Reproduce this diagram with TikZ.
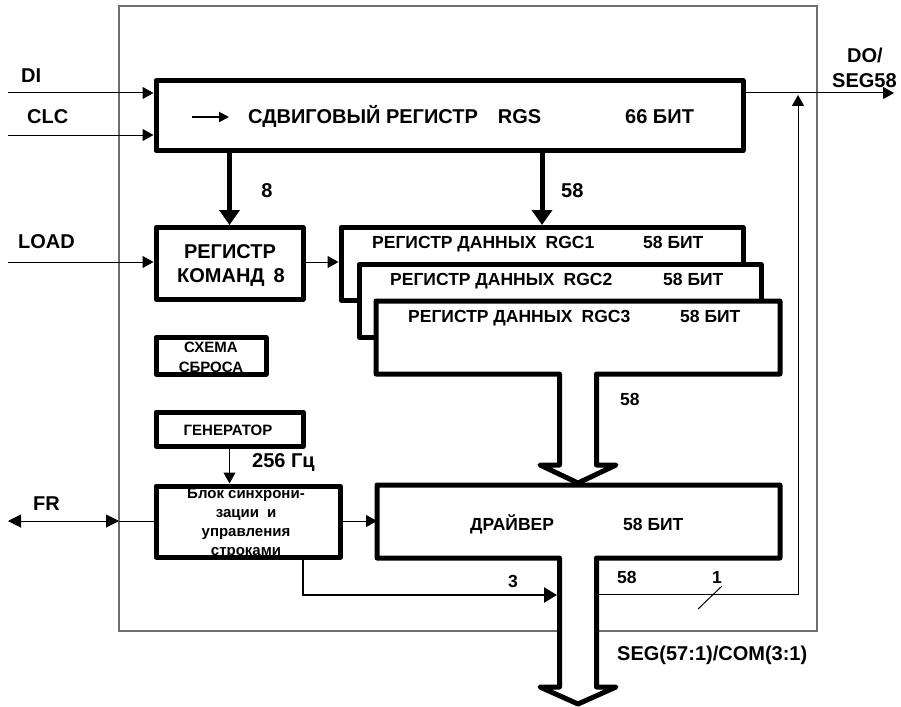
\documentclass[tikz,border=0pt]{standalone}
\usepackage{fontspec}
\setmainfont{Liberation Sans}
\usetikzlibrary{arrows.meta}
\definecolor{framegray}{HTML}{6E6E6E}
\tikzset{
  blk/.style={draw, line width=5pt, line join=round, fill=white, inner sep=0pt},
  anch/.style={inner sep=0pt, outer sep=0pt},
  thinln/.style={line width=1pt},
  tarrow/.style={line width=1pt, -{Triangle[length=11pt,width=12pt]}},
  bigarrow/.style={line width=5pt, -{Triangle[length=15pt,width=20pt]}},
  midarrow/.style={line width=2.5pt, -{Triangle[length=13pt,width=15pt]}},
  lbl/.style={inner sep=0pt, font=\bfseries\fontsize{20}{23}\selectfont},
  mlbl/.style={inner sep=0pt, font=\bfseries\fontsize{17.5}{20}\selectfont},
  slbl/.style={inner sep=0pt, font=\bfseries\fontsize{15}{19}\selectfont},
}
\begin{document}
\begin{tikzpicture}[x=1pt,y=-1pt]
\useasboundingbox (0,0) rectangle (901,706);
\clip (0,0) rectangle (901,706);

% outer frame
\draw[framegray, line width=1.5pt] (119,6) rectangle (817,631);

% free ends / helper coordinates
\coordinate (diL) at (8,93);
\coordinate (clcL) at (8,135);
\coordinate (loadL) at (8,262);
\coordinate (frL) at (8,521);
\coordinate (frF) at (119,521);
\coordinate (doR) at (894,93);
\coordinate (fbTop) at (798,95);
\coordinate (fbCorner) at (798,594);
\coordinate (shR) at (599,594);
\coordinate (s3) at (303,557);
\coordinate (s3end) at (557,595);
\coordinate (slA) at (698,609);
\coordinate (slB) at (722,586);
\coordinate (arrA) at (192,117);
\coordinate (arrB) at (229,117);

% boxes
\node[blk, minimum width=587pt, minimum height=70pt] (rgs) at (449.5,115.5) {};
\node[blk, minimum width=147pt, minimum height=71.5pt] (rgk) at (229.5,263.25) {};
\node[blk, minimum width=402pt, minimum height=72.5pt] (rgc1) at (542,263.75) {};
\node[blk, minimum width=402pt, minimum height=72.5pt] (rgc2) at (560,300.75) {};
\node[anch, minimum width=404pt, minimum height=73pt] (rgc3) at (578,337.5) {};
\draw[blk] (376,301) -- (780,301) -- (780,374) -- (596.5,374) -- (596.5,465)
  -- (616,465) -- (578,483) -- (540,465) -- (559.5,465) -- (559.5,374)
  -- (376,374) -- cycle;
\node[blk, minimum width=110pt, minimum height=36.5pt] (rst) at (211,355.75) {};
\node[blk, minimum width=147pt, minimum height=34pt] (gen) at (229.5,429) {};
\node[blk, minimum width=184pt, minimum height=71pt] (sync) at (248,521.5) {};
\node[anch, minimum width=403pt, minimum height=73pt] (drv) at (578.5,521.5) {};
\draw[blk] (377,485) -- (780,485) -- (780,558) -- (596.5,558) -- (596.5,687)
  -- (616,687) -- (578,704) -- (540,687) -- (559.5,687) -- (559.5,558)
  -- (377,558) -- cycle;

% thin connectors
\draw[tarrow] (diL) -- (diL -| rgs.west);
\draw[tarrow] (clcL) -- (clcL -| rgs.west);
\draw[tarrow] (loadL) -- (loadL -| rgk.west);
\draw[tarrow] (loadL -| rgk.east) -- (loadL -| rgc1.west);
\draw[line width=1pt, {Triangle[length=13pt,width=13pt]}-{Triangle[length=13pt,width=13pt]}] (frL) -- (frF);
\draw[thinln] (frF) -- (frF -| sync.west);
\draw[tarrow] (frF -| sync.east) -- (frF -| drv.west);
\draw[tarrow] (gen.south) -- (gen.south |- sync.north);
\draw[tarrow] (diL -| rgs.east) -- (doR);
\draw[tarrow] (shR) -- (fbCorner) -- (fbTop);
\draw[midarrow] (s3) |- (s3end);
\draw[thinln] (slA) -- (slB);

% thick bus arrows
\draw[bigarrow] (rgs.south -| rgk.north) -- (rgk.north);
\draw[bigarrow] (rgs.south -| 542,0) -- (rgc1.north -| 542,0);

% arrow inside shift register
\draw[line width=2pt, -{Triangle[length=10pt,width=10pt]}] (arrA) -- (arrB);

% labels
\node[lbl, anchor=base west] (tdi) at (21,83) {DI};
\node[lbl, anchor=base west] (tclc) at (27,123) {CLC};
\node[lbl, anchor=base west] (tload) at (18,248) {LOAD};
\node[lbl, anchor=base west] (tfr) at (33,510) {FR};
\node[lbl, anchor=base] (t8) at (267,197) {8};
\node[lbl, anchor=base west] (t58a) at (561,197) {58};
\node[lbl, anchor=base west] (trgs) at (248,124) {СДВИГОВЫЙ РЕГИСТР\quad RGS};
\node[lbl, anchor=base west] (t66) at (625,124) {66 БИТ};
\node[lbl, anchor=base] (trgk1) at (230,258) {РЕГИСТР};
\node[lbl, anchor=base] (trgk2) at (231,282) {КОМАНД\hspace{9pt}8};
\node[mlbl, anchor=base west] (tc1) at (372,248) {РЕГИСТР ДАННЫХ\hspace{9pt}RGC1};
\node[mlbl, anchor=base west] (tc1b) at (643,248) {58 БИТ};
\node[mlbl, anchor=base west] (tc2) at (390,285) {РЕГИСТР ДАННЫХ\hspace{9pt}RGC2};
\node[mlbl, anchor=base west] (tc2b) at (663,285) {58 БИТ};
\node[mlbl, anchor=base west] (tc3) at (408,322) {РЕГИСТР ДАННЫХ\hspace{9pt}RGC3};
\node[mlbl, anchor=base west] (tc3b) at (680,322) {58 БИТ};
\node[mlbl, anchor=base west] (t58b) at (620,405) {58};
\node[mlbl, anchor=base west] (tdrv) at (470,530) {ДРАЙВЕР};
\node[mlbl, anchor=base west] (tdrvb) at (623,530) {58 БИТ};
\node[slbl, anchor=base] (trst1) at (211,352) {СХЕМА};
\node[slbl, anchor=base] (trst2) at (211,372) {СБРОСА};
\node[slbl, anchor=base] (tgen) at (228,435) {ГЕНЕРАТОР};
\node[lbl, anchor=base west] (t256) at (252,467) {256 Гц};
\node[slbl, anchor=base] (ts1) at (246,498) {Блок синхрони-};
\node[slbl, anchor=base] (ts2) at (246,517) {зации\hspace{8pt}и};
\node[slbl, anchor=base] (ts3) at (246,536) {управления};
\node[slbl, anchor=base] (ts4) at (246,555) {строками};
\node[mlbl, anchor=base] (t3) at (513,587) {3};
\node[mlbl, anchor=base west] (t58c) at (617,583) {58};
\node[mlbl, anchor=base] (t1) at (717,583) {1};
\node[lbl, anchor=base west] (tseg) at (617,660) {SEG(57:1)/COM(3:1)};
\node[lbl, anchor=base west] (tdo) at (847,63) {DO/};
\node[lbl, anchor=base west] (tseg58) at (832,88) {SEG58};
\end{tikzpicture}
\end{document}
